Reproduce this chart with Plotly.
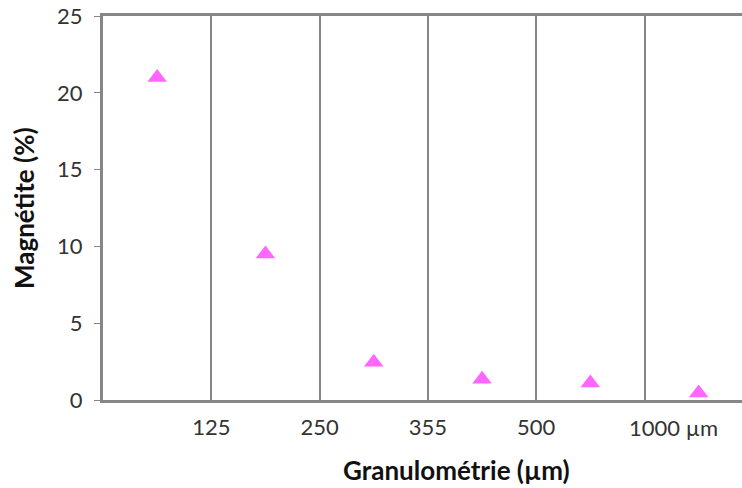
import plotly.graph_objects as go

# Data
categories = ["<125", "125-250", "250-355", "355-500", "500-1000", ">1000"]
magnetite = [21.0, 9.5, 2.45, 1.35, 1.1, 0.45]
boundary_labels = ["125", "250", "355", "500", "1000 µm"]
y_ticks = [0, 5, 10, 15, 20, 25]

x_pos = [i + 0.5 for i in range(len(categories))]
boundary_pos = [i + 1 for i in range(len(boundary_labels))]

FONT = "Lato, 'Open Sans', sans-serif"
GRAY = "#868686"
TXT = "#333333"

W, H = 742, 488
ML, MT, MB = 103, 16, 88
PW = W - ML
PH = H - MT - MB
CAT_PX = 108.3

fig = go.Figure()
fig.add_trace(go.Scatter(
    x=x_pos, y=magnetite, mode="markers",
    marker=dict(symbol="triangle-up", size=17, color="#FF66FF"),
    text=categories, hoverinfo="text+y", showlegend=False,
))

fig.update_layout(
    width=W, height=H,
    margin=dict(l=ML, r=0, t=MT, b=MB, autoexpand=False),
    paper_bgcolor="white", plot_bgcolor="white",
    font=dict(family=FONT, size=22, color=TXT),
    xaxis=dict(
        range=[0, PW / CAT_PX],
        tickmode="array", tickvals=boundary_pos,
        ticktext=boundary_labels[:-1] + [""],
        showgrid=True, gridcolor=GRAY, gridwidth=2,
        showline=True, linecolor=GRAY, linewidth=3, mirror=True,
        ticks="", ticklabelstandoff=6,
        zeroline=False, automargin=False,
    ),
    yaxis=dict(
        range=[0, 25],
        tickmode="array", tickvals=y_ticks,
        showgrid=False,
        showline=True, linecolor=GRAY, linewidth=3,
        ticks="outside", ticklen=6, tickcolor=GRAY, tickwidth=1,
        ticklabelstandoff=7, ticklabeloverflow="allow",
        zeroline=False, automargin=False,
    ),
    annotations=[
        dict(text=boundary_labels[-1], x=boundary_pos[-1], xref="x", xshift=29,
             y=0, yref="paper", yshift=-27, xanchor="center", yanchor="middle",
             showarrow=False, font=dict(family=FONT, size=22, color=TXT)),
        dict(text="<b>Granulométrie (µm)</b>", x=(456 - ML) / PW, xref="paper",
             y=-(470 - (MT + PH)) / PH, yref="paper",
             showarrow=False, xanchor="center", yanchor="middle",
             font=dict(family=FONT, size=26, color="#111111")),
        dict(text="<b>Magnétite (%)</b>", x=(24 - ML) / PW, xref="paper",
             y=0.5, yref="paper", textangle=-90,
             showarrow=False, xanchor="center", yanchor="middle",
             font=dict(family=FONT, size=26, color="#111111")),
    ],
)

fig.write_html("out.html", config={"displayModeBar": False},
               post_script="document.body.style.margin='0';")
